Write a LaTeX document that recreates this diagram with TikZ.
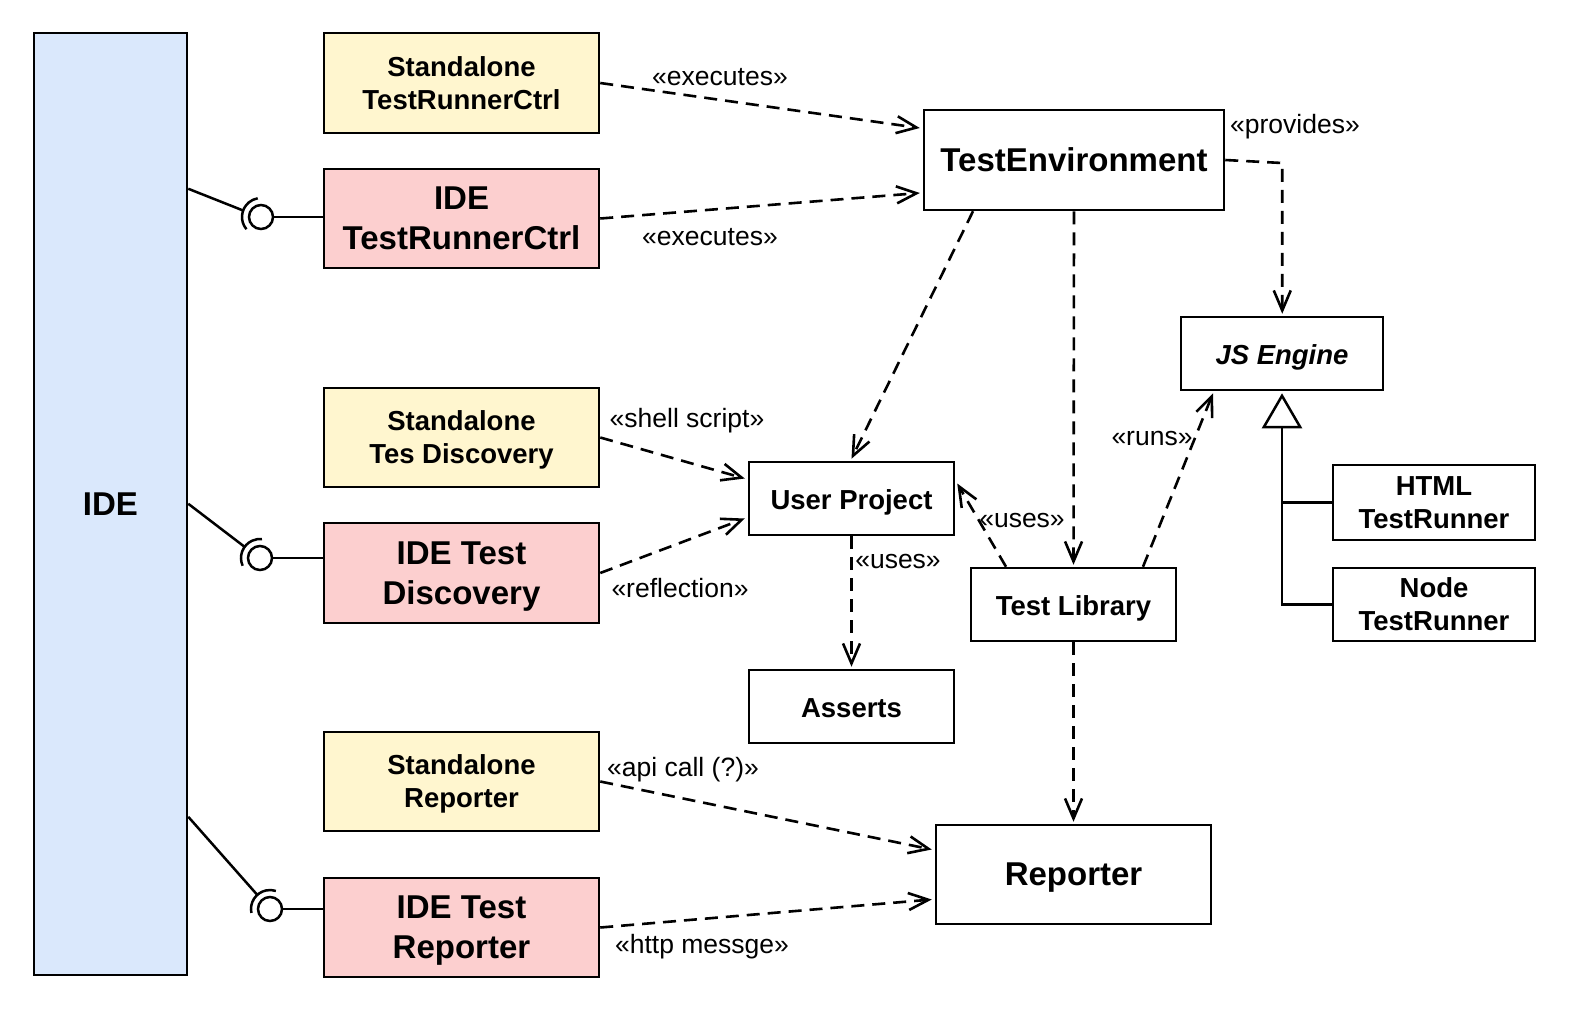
\documentclass[tikz,border=0pt]{standalone}
\usepackage{fontspec}
\setmainfont{Liberation Sans}
\usetikzlibrary{arrows.meta,calc}
\definecolor{ideblue}{HTML}{DAE8FC}
\definecolor{sayellow}{HTML}{FFF6CF}
\definecolor{idepink}{HTML}{FCCFCF}
\begin{document}
\begin{tikzpicture}[x=1pt,y=-1pt,
  box/.style={draw, line width=2.5pt, align=center, inner sep=0pt, fill=white, text depth=0pt},
  one/.style={text height=22pt, text depth=0pt},
  big/.style={font=\bfseries\fontsize{33}{40}\selectfont},
  small/.style={font=\bfseries\fontsize{27.5}{33}\selectfont},
  lbl/.style={font=\fontsize{26.5}{30}\selectfont, inner sep=0pt},
  dep/.style={line width=2.6pt, dash pattern=on 13pt off 8pt, -{Straight Barb[length=20pt,width=17pt]}},
  solidline/.style={line width=2.5pt},
  gen/.style={line width=2.5pt, -{Triangle[open,length=35pt,width=40pt,fill=white]}}
]
\useasboundingbox (0,0) rectangle (1570,1012);

% nodes
\node[box, big, one, fill=ideblue, minimum width=153pt, minimum height=942pt] (ide) at (110.5,504) {IDE};
\node[box, small, fill=sayellow, minimum width=275pt, minimum height=100pt] (sa1) at (461.5,83) {Standalone\\TestRunnerCtrl};
\node[box, big, fill=idepink, minimum width=275pt, minimum height=99pt] (ide1) at (461.5,218.5) {IDE\\TestRunnerCtrl};
\node[box, small, fill=sayellow, minimum width=275pt, minimum height=99pt] (sa2) at (461.5,437.5) {Standalone\\Tes Discovery};
\node[box, big, fill=idepink, minimum width=275pt, minimum height=100pt] (ide2) at (461.5,573) {IDE Test\\Discovery};
\node[box, small, fill=sayellow, minimum width=275pt, minimum height=99pt] (sa3) at (461.5,781.5) {Standalone\\Reporter};
\node[box, big, fill=idepink, minimum width=275pt, minimum height=99pt] (ide3) at (461.5,927.5) {IDE Test\\Reporter};

\node[box, big, one, minimum width=300pt, minimum height=100pt] (env) at (1074,160) {TestEnvironment};
\node[box, small, one, minimum width=202pt, minimum height=73pt] (js) at (1282,353.5) {\itshape JS Engine};
\node[box, small, one, minimum width=205pt, minimum height=73pt] (up) at (851.5,498.5) {User Project};
\node[box, small, one, minimum width=205pt, minimum height=73pt] (asserts) at (851.5,706.5) {Asserts};
\node[box, small, one, minimum width=205pt, minimum height=73pt] (lib) at (1073.5,604.5) {Test Library};
\node[box, small, minimum width=202pt, minimum height=75pt] (html) at (1434,502.5) {HTML\\TestRunner};
\node[box, small, minimum width=202pt, minimum height=73pt] (nodetr) at (1434,604.5) {Node\\TestRunner};
\node[box, big, one, minimum width=275pt, minimum height=99pt] (rep) at (1073.5,874.5) {Reporter};

% dependencies
\draw[dep] (sa1.east) -- ($(env.west)+(-3,-32)$);
\draw[dep] (ide1.east) -- ($(env.west)+(-3,33)$);
\draw[dep] (env.east) -- ++(57,3) coordinate (pv) -- ($(pv |- js.north)+(0,-2)$);
\draw[dep] ($(env.south)+(-101,0)$) -- ($(up.north)+(0,-2)$);
\draw[dep] (env.south) -- ($(lib.north)+(0,-2)$);
\draw[dep] (sa2.east) -- ($(up.west)+(-3,-20)$);
\draw[dep] (ide2.east) -- ($(up.west)+(-3,20)$);
\draw[dep] (up.south) -- ($(asserts.north)+(0,-2)$);
\draw[dep] ($(lib.north)+(-67.5,0)$) -- ($(up.east)+(2,-15)$);
\draw[dep] ($(lib.north)+(69.5,0)$) -- ($(js.south)+(-69,2)$);
\draw[dep] (lib.south) -- ($(rep.north)+(0,-2)$);
\draw[dep] (sa3.east) -- ($(rep.west)+(-3,-25)$);
\draw[dep] (ide3.east) -- ($(rep.west)+(-3,25)$);

% generalization
\draw[solidline] (html.west) -- (html.west -| js.south);
\draw[gen] (nodetr.west) -| ($(js.south)+(0,2)$);

% labels
\node[lbl] (l1) at (720,77) {«executes»};
\node[lbl] (l2) at (710,237) {«executes»};
\node[lbl] (l3) at (1295,127) {«provides»};
\node[lbl] (l4) at (687,421) {«shell script»};
\node[lbl] (l5) at (680,588) {«reflection»};
\node[lbl] (l6) at (898,561) {«uses»};
\node[lbl] (l7) at (1022,520) {«uses»};
\node[lbl] (l8) at (1152,438) {«runs»};
\node[lbl] (l9) at (683,770) {«api call (?)»};
\node[lbl] (l10) at (702,947) {«http messge»};

% ball and socket
\node[draw, circle, line width=2.5pt, minimum size=24pt, inner sep=0pt, fill=white] (b1) at (261,217) {};
\node[draw, circle, line width=2.5pt, minimum size=24pt, inner sep=0pt, fill=white] (b2) at (260,558) {};
\node[draw, circle, line width=2.5pt, minimum size=24pt, inner sep=0pt, fill=white] (b3) at (270,909) {};
\draw[solidline] (b1.east) -- (b1.east -| ide1.west);
\draw[solidline] (b2.east) -- (b2.east -| ide2.west);
\draw[solidline] (b3.east) -- (b3.east -| ide3.west);
\draw[solidline] ($(b1)+(140:19)$) arc[start angle=140, end angle=260, radius=19];
\draw[solidline] ($(b2)+(156:19)$) arc[start angle=156, end angle=276, radius=19];
\draw[solidline] ($(b3)+(168:19)$) arc[start angle=168, end angle=288, radius=19];
\draw[solidline] ($(ide.north east)+(0,157)$) -- ($(b1)+(200:19)$);
\draw[solidline] ($(ide.north east)+(0,472)$) -- ($(b2)+(216:19)$);
\draw[solidline] ($(ide.north east)+(0,785)$) -- ($(b3)+(228:19)$);
\end{tikzpicture}
\end{document}
